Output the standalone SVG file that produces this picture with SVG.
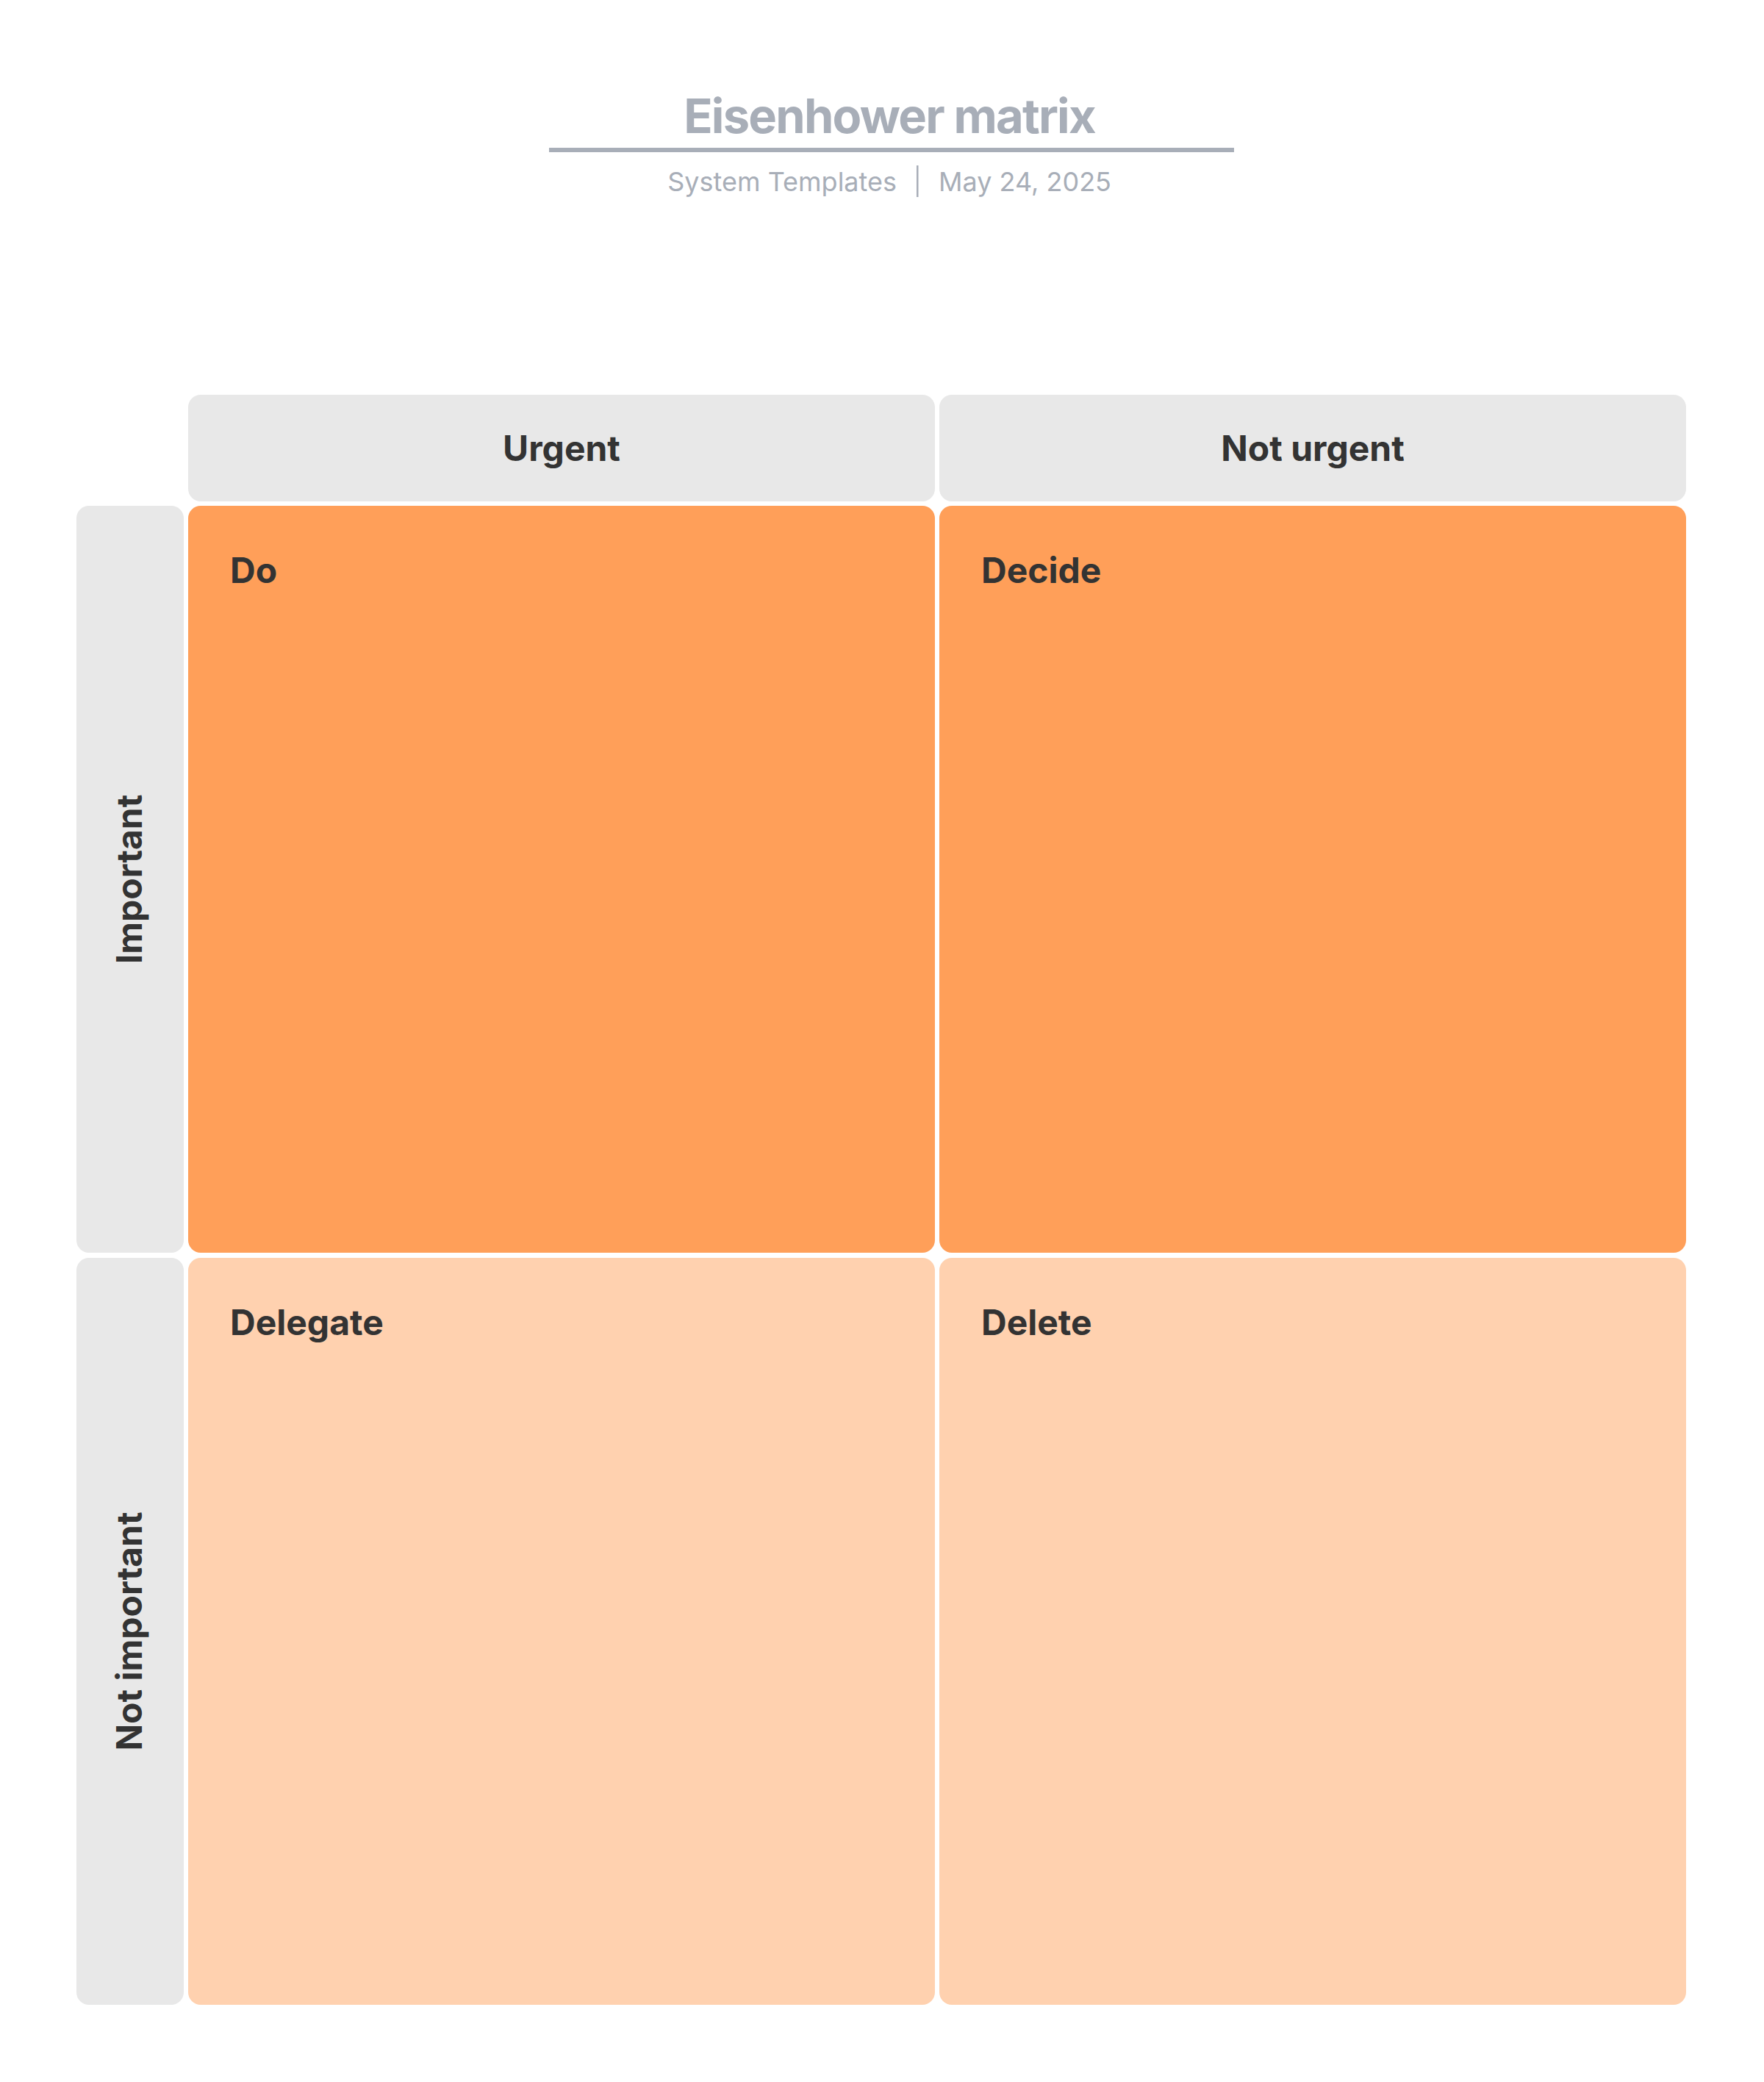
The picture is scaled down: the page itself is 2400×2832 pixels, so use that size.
<svg xmlns="http://www.w3.org/2000/svg" width="2400" height="2832" viewBox="0 0 2400 2832">
<style>
.hdr{fill:#E8E8E8}
.q1{fill:#FF9F59}
.q2{fill:#FFD1AF}
.lbl{font-family:Inter,"Liberation Sans",sans-serif;font-weight:700;font-size:48px;fill:#333333}
.ttl{font-family:Inter,"Liberation Sans",sans-serif;font-weight:700;font-size:65px;letter-spacing:-1.8px;fill:#A8AEB8}
.sub{font-family:Inter,"Liberation Sans",sans-serif;font-weight:400;font-size:36px;fill:#A8AEB8}
</style>
<rect width="2400" height="2832" fill="#FFFFFF"/>
<g id="title">
<text class="ttl" x="1210" y="181" text-anchor="middle">Eisenhower matrix</text>
<rect x="747" y="201" width="932" height="6" fill="#A8AEB8"/>
<text class="sub" x="1220" y="260" text-anchor="end">System Templates</text>
<rect x="1247" y="225" width="2.5" height="43" fill="#A8AEB8"/>
<text class="sub" x="1277" y="260">May 24, 2025</text>
</g>
<g id="col-urgent">
<rect class="hdr" x="256" y="537" width="1016" height="145" rx="17"/>
<text class="lbl" x="764" y="627" text-anchor="middle">Urgent</text>
</g>
<g id="col-not-urgent">
<rect class="hdr" x="1278" y="537" width="1016" height="145" rx="17"/>
<text class="lbl" x="1786" y="627" text-anchor="middle">Not urgent</text>
</g>
<g id="row-important">
<rect class="hdr" x="104" y="688" width="146" height="1016" rx="17"/>
<text class="lbl" transform="translate(193 1196) rotate(-90)" text-anchor="middle">Important</text>
</g>
<g id="row-not-important">
<rect class="hdr" x="104" y="1711" width="146" height="1016" rx="17"/>
<text class="lbl" transform="translate(193 2219) rotate(-90)" text-anchor="middle">Not important</text>
</g>
<g id="do">
<rect class="q1" x="256" y="688" width="1016" height="1016" rx="17"/>
<text class="lbl" x="313" y="793">Do</text>
</g>
<g id="decide">
<rect class="q1" x="1278" y="688" width="1016" height="1016" rx="17"/>
<text class="lbl" x="1335" y="793">Decide</text>
</g>
<g id="delegate">
<rect class="q2" x="256" y="1711" width="1016" height="1016" rx="17"/>
<text class="lbl" x="313" y="1816">Delegate</text>
</g>
<g id="delete">
<rect class="q2" x="1278" y="1711" width="1016" height="1016" rx="17"/>
<text class="lbl" x="1335" y="1816">Delete</text>
</g>
<g id="connectors"/>
</svg>
